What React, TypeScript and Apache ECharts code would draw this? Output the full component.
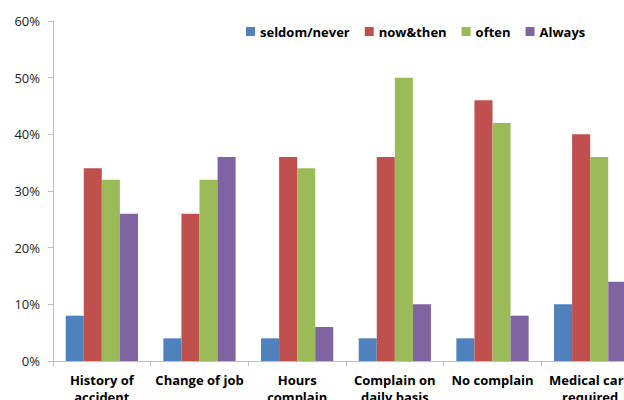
import React, { useEffect, useRef } from "react";
import * as echarts from "echarts";

const categories = [
  "History of\naccident",
  "Change of job",
  "Hours\ncomplain",
  "Complain on\ndaily basis",
  "No complain",
  "Medical care\nrequired",
];
const seriesNames = ["seldom/never", "now&then", "often", "Always"];
const seldomNever = [8, 4, 4, 4, 4, 10];
const nowAndThen = [34, 26, 36, 36, 46, 40];
const often = [32, 32, 34, 50, 42, 36];
const always = [26, 36, 6, 10, 8, 14];
const colors = ["#4F81BD", "#C0504D", "#9BBB59", "#8064A2"];
const yTicks = [0, 10, 20, 30, 40, 50, 60];

export default function App() {
  const ref = useRef<HTMLDivElement>(null);
  useEffect(() => {
    if (!ref.current) return;
    const chart = echarts.init(ref.current, undefined, { renderer: "svg" });
    const data = [seldomNever, nowAndThen, often, always];
    chart.setOption({
      animation: false,
      backgroundColor: "#ffffff",
      textStyle: { fontFamily: "Open Sans" },
      legend: {
        left: 241,
        top: 20,
        itemWidth: 9,
        itemHeight: 9,
        itemGap: 15,
        icon: "rect",
        data: seriesNames,
        textStyle: { fontFamily: "Open Sans", fontWeight: "bold", fontSize: 13, color: "#000" },
      },
      grid: { left: 53, right: 21, top: 21, bottom: 39, containLabel: false, outerBoundsMode: "none" },
      xAxis: {
        type: "category",
        data: categories,
        axisLine: { lineStyle: { color: "#BFBFBF", width: 1 } },
        axisTick: { show: true, length: 5, lineStyle: { color: "#BFBFBF" } },
        axisLabel: {
          fontFamily: "Open Sans",
          fontWeight: "bold",
          fontSize: 13,
          color: "#000",
          lineHeight: 17,
          margin: 10,
          interval: 0,
        },
      },
      yAxis: {
        type: "value",
        min: yTicks[0],
        max: yTicks[yTicks.length - 1],
        interval: 10,
        axisLine: { show: true, lineStyle: { color: "#BFBFBF", width: 1 } },
        axisTick: { show: true, length: 5, lineStyle: { color: "#BFBFBF" } },
        splitLine: { show: false },
        axisLabel: {
          formatter: "{value}%",
          fontFamily: "Open Sans",
          fontSize: 13,
          color: "#222",
          margin: 13,
        },
      },
      series: seriesNames.map((name, i) => ({
        name,
        type: "bar",
        data: data[i],
        barGap: "0%",
        barCategoryGap: "26%",
        itemStyle: { color: colors[i] },
      })),
    });
    return () => chart.dispose();
  }, []);
  return (
    <div
      style={{
        position: "fixed",
        left: 0,
        top: 0,
        width: 624,
        height: 400,
        overflow: "hidden",
        background: "#fff",
      }}
    >
      <div ref={ref} style={{ width: 660, height: 400 }} />
    </div>
  );
}
